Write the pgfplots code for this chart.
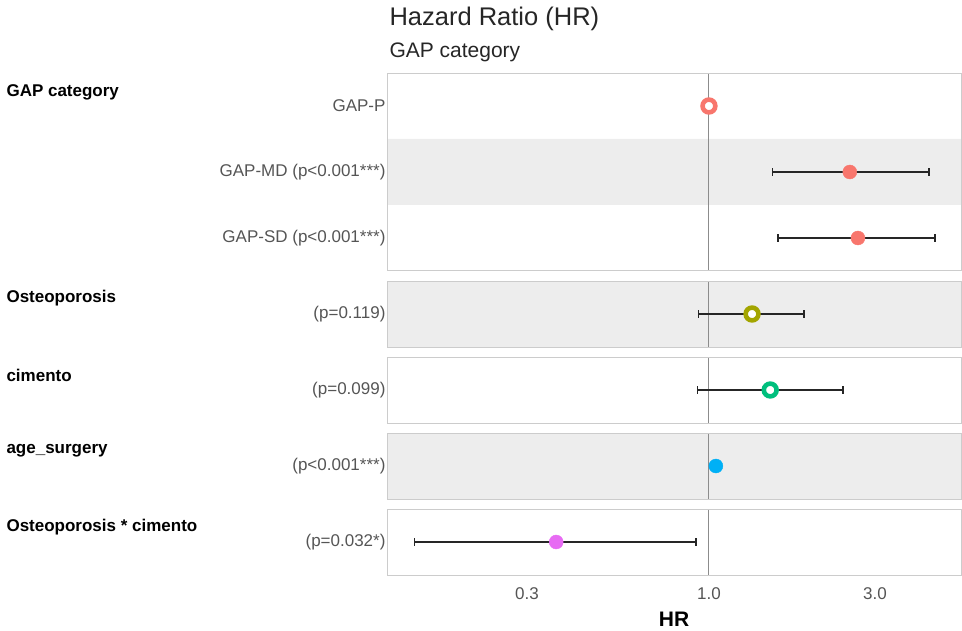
\documentclass[border=0pt]{standalone}
\usepackage{fontspec}
\setmainfont{Liberation Sans}
\usepackage{pgfplots}
\pgfplotsset{compat=1.18}
\definecolor{cA}{HTML}{F8766D}
\definecolor{cB}{HTML}{A3A500}
\definecolor{cC}{HTML}{00BF7D}
\definecolor{cD}{HTML}{00B0F6}
\definecolor{cE}{HTML}{E76BF3}
\definecolor{panelgray}{HTML}{EDEDED}
\definecolor{bordergray}{HTML}{CCCCCC}
\definecolor{txtgray}{HTML}{555555}
\definecolor{refline}{HTML}{8C8C8C}
\pgfplotsset{
  mypanel/.style={
    xmin=0.1196, xmax=5.30,
    width=573pt, scale only axis, y dir=reverse,
    anchor=north west,
    axis on top,
    axis line style={bordergray, line width=1pt},
    xtick=\empty,
    tick style={draw=none},
    yticklabel style={text=txtgray, font=\fontsize{17}{19}\selectfont, xshift=1pt},
    xticklabel style={text=txtgray, font=\fontsize{17}{19}\selectfont, yshift=-9pt},
    clip=false,
  },
  cibar/.style={black!85, line width=1.4pt, mark=|, mark size=3.6pt, mark options={solid, line width=1.3pt}},
  fillpt/.style={only marks, mark=*, mark size=7pt, color=#1, mark options={draw=#1, fill=#1}},
  openpt/.style={only marks, mark=*, mark size=6.4pt, mark options={draw=#1, fill=white, line width=4.6pt}},
}
\begin{document}
\begin{tikzpicture}
\path[use as bounding box] (0,0) rectangle (962pt,-631pt);
\node[anchor=west, font=\fontsize{25.5}{28}\selectfont, text=black!85] at (386pt,-19pt) {Hazard Ratio (HR)};
\node[anchor=west, font=\fontsize{21}{23}\selectfont, text=black!85] at (386pt,-52pt) {GAP category};
% group labels
\begin{scope}[every node/.style={anchor=west, font=\fontsize{17}{19}\selectfont\bfseries}]
\node at (3pt,-92pt) {GAP category};
\node at (3pt,-298pt) {Osteoporosis};
\node at (3pt,-375pt) {cimento};
\node at (3pt,-451pt) {age\_surgery};
\node at (3pt,-527pt) {Osteoporosis * cimento};
\end{scope}
\node[font=\fontsize{21}{23}\selectfont\bfseries] at (674pt,-619pt) {HR};
% Panel 1
\begin{semilogxaxis}[mypanel, at={(388pt,-73pt)}, height=198pt, ymin=0.5, ymax=3.5,
  ytick={1,2,3}, yticklabels={GAP-P, GAP-MD (p<0.001***), GAP-SD (p<0.001***)}]
\addplot[fill=panelgray, draw=none] coordinates {(0.1196,1.5) (5.30,1.5) (5.30,2.5) (0.1196,2.5) (0.1196,1.5)};
\addplot[refline, line width=1pt] coordinates {(1,0.5) (1,3.5)};
\addplot[cibar] coordinates {(1.52,2) (4.29,2)};
\addplot[cibar] coordinates {(1.58,3) (4.46,3)};
\addplot[openpt=cA] coordinates {(1.0,1)};
\addplot[fillpt=cA] coordinates {(2.54,2)};
\addplot[fillpt=cA] coordinates {(2.68,3)};
\end{semilogxaxis}
% Panel 2
\begin{semilogxaxis}[mypanel, at={(388pt,-281pt)}, height=66pt, ymin=0.5, ymax=1.5,
  axis background/.style={fill=panelgray},
  ytick={1}, yticklabels={(p=0.119)}]
\addplot[refline, line width=1pt] coordinates {(1,0.5) (1,1.5)};
\addplot[cibar] coordinates {(0.933,1) (1.875,1)};
\addplot[openpt=cB] coordinates {(1.33,1)};
\end{semilogxaxis}
% Panel 3
\begin{semilogxaxis}[mypanel, at={(388pt,-357pt)}, height=66pt, ymin=0.5, ymax=1.5,
  ytick={1}, yticklabels={(p=0.099)}]
\addplot[refline, line width=1pt] coordinates {(1,0.5) (1,1.5)};
\addplot[cibar] coordinates {(0.928,1) (2.43,1)};
\addplot[openpt=cC] coordinates {(1.50,1)};
\end{semilogxaxis}
% Panel 4
\begin{semilogxaxis}[mypanel, at={(388pt,-433pt)}, height=66pt, ymin=0.5, ymax=1.5,
  axis background/.style={fill=panelgray},
  ytick={1}, yticklabels={(p<0.001***)}]
\addplot[refline, line width=1pt] coordinates {(1,0.5) (1,1.5)};
\addplot[cibar] coordinates {(1.035,1) (1.06,1)};
\addplot[fillpt=cD] coordinates {(1.047,1)};
\end{semilogxaxis}
% Panel 5
\begin{semilogxaxis}[mypanel, at={(388pt,-509pt)}, height=66pt, ymin=0.5, ymax=1.5,
  ytick={1}, yticklabels={(p=0.032*)},
  xtick={0.3,1,3}, xticklabels={0.3,1.0,3.0}]
\addplot[refline, line width=1pt] coordinates {(1,0.5) (1,1.5)};
\addplot[cibar] coordinates {(0.1425,1) (0.918,1)};
\addplot[fillpt=cE] coordinates {(0.364,1)};
\end{semilogxaxis}
\end{tikzpicture}
\end{document}
